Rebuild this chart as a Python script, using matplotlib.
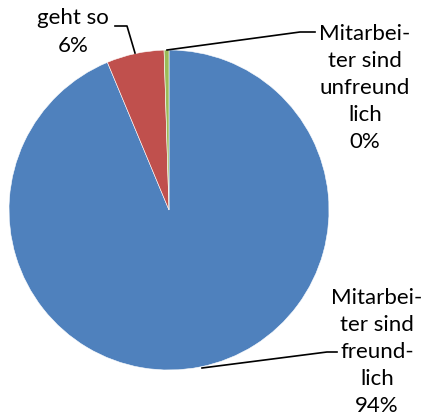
import matplotlib
matplotlib.use("Agg")
from matplotlib import pyplot as plt

# Daten
labels = ["Mitarbei-\nter sind\nfreund-\nlich", "geht so", "Mitarbei-\nter sind\nunfreund\nlich"]
values = [93.7, 5.8, 0.49]
colors = ["#4F81BD", "#C0504D", "#9BBB59"]

W, H = 427, 419
fig = plt.figure(figsize=(W / 100, H / 100), dpi=100)
ax = fig.add_axes([0, 0, 1, 1])
ax.set_xlim(0, W)
ax.set_ylim(0, H)
ax.set_aspect("equal")
ax.axis("off")

ax.pie(values, colors=colors, startangle=90, counterclock=False,
       center=(169, H - 210), radius=160,
       wedgeprops=dict(edgecolor="white", linewidth=0.4))
ax.set_xlim(0, W)
ax.set_ylim(0, H)

font = dict(family="Lato", fontsize=16, ha="center", va="center", linespacing=1.45)

# Beschriftungen
texts = [f"{l}\n{round(v):.0f}%" for l, v in zip(labels, values)]
ax.text(377, H - 352, texts[0], **font)
ax.text(73, H - 32, texts[1], **font)
ax.text(365, H - 88, texts[2], **font)

# Führungslinien
def leader(pts):
    ax.plot([p[0] for p in pts], [H - p[1] for p in pts], color="black", lw=1.2)

leader([(202, 368), (327, 352), (337, 352)])
leader([(115, 26), (127, 26), (135, 53)])
leader([(167, 50), (300, 32), (315, 32)])

fig.savefig("out.png", dpi=100)
